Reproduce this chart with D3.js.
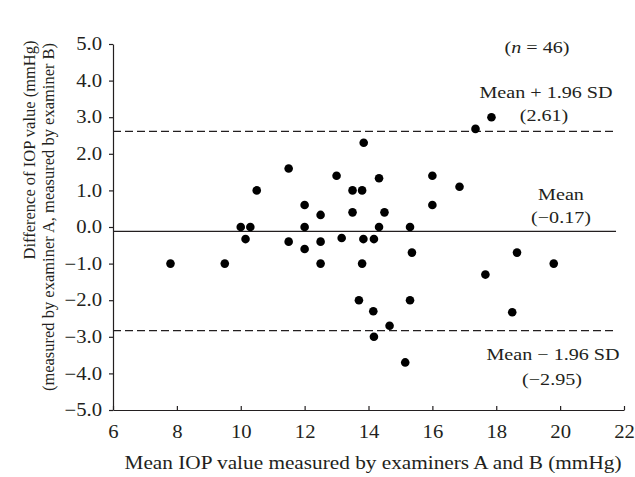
<!DOCTYPE html>
<html>
<head>
<meta charset="utf-8">
<script src="https://cdn.jsdelivr.net/npm/d3@7"></script>
<style>
    body { margin: 0; background: #fff; }
    svg text { font-family: 'Liberation Serif', 'Times New Roman', serif; fill: #231f20; }
</style>
</head>
<body>
<svg id="chart" width="635" height="477"></svg>
<script>
// mean IOP of examiners A and B (mmHg)
const meanIOP = [7.8, 9.5, 10.0, 10.3, 10.15, 10.5, 11.5, 12.0, 12.0, 12.5, 13.0, 13.5, 13.8, 13.5,
    13.85, 14.33, 14.5, 14.33, 15.3, 16.0, 16.0, 11.5, 12.0, 12.5, 13.16, 13.84, 14.17, 15.36,
    12.5, 13.8, 13.7, 15.3, 14.15, 14.66, 14.17, 15.15, 17.85, 17.35, 16.85, 18.65, 19.8, 17.66, 18.5];
// difference A - B (mmHg)
const diffIOP = [-1.0, -1.0, 0.0, 0.0, -0.33, 1.0, 1.6, 0.6, 0.0, 0.33, 1.4, 1.0, 1.0, 0.4,
    2.3, 1.33, 0.4, 0.0, 0.0, 1.4, 0.6, -0.4, -0.6, -0.4, -0.3, -0.33, -0.33, -0.7,
    -1.0, -1.0, -2.0, -2.0, -2.3, -2.7, -3.0, -3.7, 3.0, 2.68, 1.1, -0.7, -1.0, -1.3, -2.33];

const xTicks = [6, 8, 10, 12, 14, 16, 18, 20, 22];
const yTicks = [5, 4, 3, 2, 1, 0, -1, -2, -3, -4, -5];

// reference lines as drawn in the figure
const lineValues = [2.61, -0.12, -2.83];
const lineDashed = [true, false, true];
const lineLabels = [['Mean + 1.96 SD', '(2.61)'], ['Mean', '(\u22120.17)'], ['Mean \u2212 1.96 SD', '(\u22122.95)']];

const margin = { top: 44, right: 11, bottom: 67, left: 113 };
const W = 635, H = 477;
const width = W - margin.left - margin.right;
const height = H - margin.top - margin.bottom;
const sx = 1.15; // the figure's lettering is a bit wider than Times

const svg = d3.select('#chart');
const g = svg.append('g').attr('transform', `translate(${margin.left},${margin.top})`);

const x = d3.scaleLinear().domain([6, 22]).range([0, width]);
const y = d3.scaleLinear().domain([-5, 5]).range([height, 0]);

const addText = (parent, px, py, str, size) => parent.append('text')
    .attr('transform', `translate(${px},${py}) scale(${sx},1)`)
    .attr('text-anchor', 'middle')
    .attr('font-size', size)
    .text(str);

// axes
const axisX = d3.axisBottom(x).tickValues(xTicks).tickFormat(d3.format('d')).tickSizeInner(-4).tickSizeOuter(0);
const axisY = d3.axisLeft(y).tickValues(yTicks).tickFormat((d) => d3.format('.1f')(d).replace('-', '\u2212')).tickSizeInner(4).tickSizeOuter(0);

const gx = g.append('g').attr('transform', `translate(0,${height})`).call(axisX);
const gy = g.append('g').call(axisY);

[gx, gy].forEach((a) => {
    a.select('.domain').attr('stroke', '#231f20').attr('stroke-width', 1.2);
    a.selectAll('.tick line').attr('stroke', '#231f20').attr('stroke-width', 1.2);
    a.selectAll('.tick text').attr('font-size', 18).attr('fill', '#231f20')
        .style('font-family', "'Liberation Serif', serif");
});
gx.selectAll('.tick text').attr('y', 0).attr('dy', 0).attr('transform', `translate(0,28) scale(${sx},1)`);
gy.selectAll('.tick text').attr('x', 0).attr('dy', '0.32em').attr('transform', `translate(-11,0) scale(${sx},1)`);

// mean and limits of agreement
g.selectAll('.ref-line')
    .data(lineValues)
    .enter()
    .append('line')
    .attr('class', 'ref-line')
    .attr('x1', x(6))
    .attr('x2', x(21.75))
    .attr('y1', (d) => y(d))
    .attr('y2', (d) => y(d))
    .attr('stroke', '#231f20')
    .attr('stroke-width', 1.2)
    .attr('stroke-dasharray', (d, i) => (lineDashed[i] ? '8,4' : null));

// points
g.selectAll('.dot')
    .data(meanIOP)
    .enter()
    .append('circle')
    .attr('class', 'dot')
    .attr('cx', (d) => x(d))
    .attr('cy', (d, i) => y(diffIOP[i]))
    .attr('r', 4.3)
    .attr('fill', '#000');

// labels for lines
const labelX = [[546, 544], [561, 561], [553, 552]];
const labelY = [[98, 121], [200, 223], [360, 385]];
lineLabels.forEach((lbl, i) => {
    lbl.forEach((t, j) => addText(svg, labelX[i][j], labelY[i][j], t, 17.5));
});

const nText = addText(svg, 537, 53, '', 17.5);
nText.append('tspan').text('(');
nText.append('tspan').attr('font-style', 'italic').text('n');
nText.append('tspan').text(' = 46)');

// axis titles
addText(svg, 373, 469, 'Mean IOP value measured by examiners A and B (mmHg)', 18.5);

const yTitle = svg.append('text')
    .attr('transform', 'rotate(-90)')
    .attr('text-anchor', 'middle')
    .attr('font-size', 16.5);
yTitle.append('tspan').attr('x', -150).attr('y', 35).text('Difference of IOP value (mmHg)');
yTitle.append('tspan').attr('x', -217).attr('y', 54).text('(measured by examiner A, measured by examiner B)');
</script>
</body>
</html>
